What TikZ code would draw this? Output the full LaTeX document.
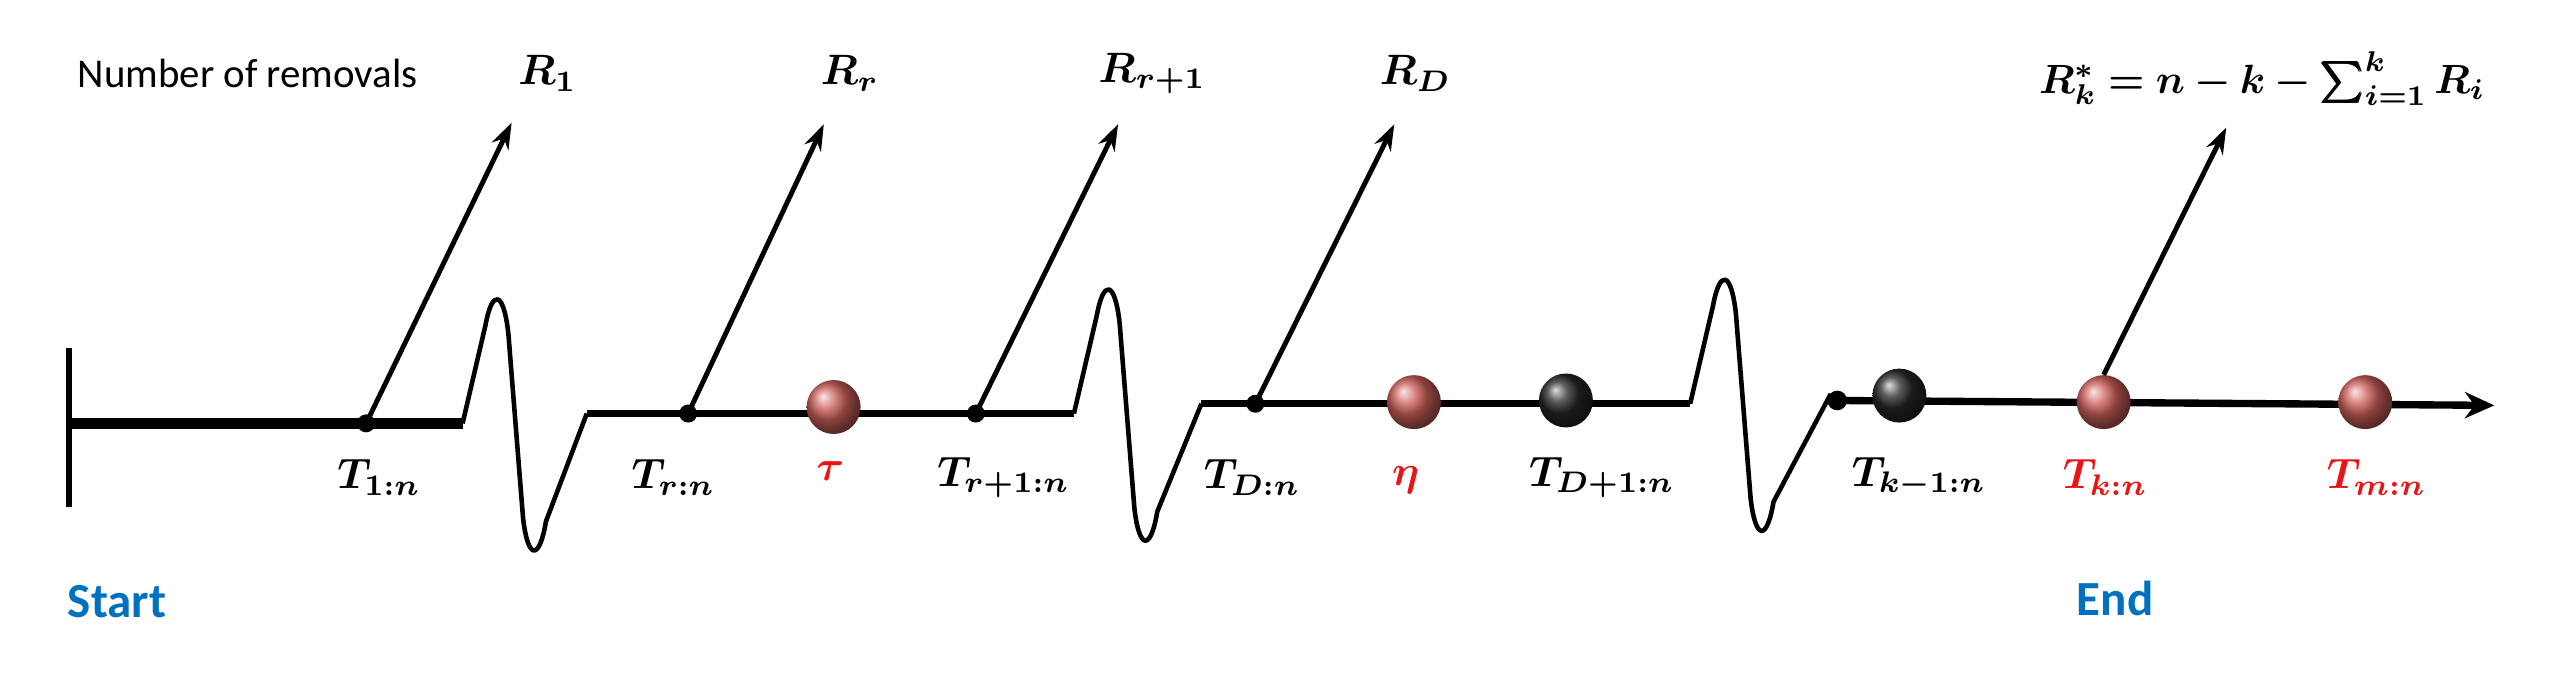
\documentclass[tikz,border=0pt]{standalone}
\usepackage{fontspec}
\usepackage{bm}
\newfontfamily\calib{Carlito}
\usetikzlibrary{arrows.meta}
\definecolor{startblue}{RGB}{0,112,192}
\definecolor{lblred}{RGB}{235,20,20}
\definecolor{ballred}{RGB}{205,95,90}
\newcommand{\mylbl}[1]{\scalebox{2.6}{$\bm{#1}$}}
\begin{document}
\begin{tikzpicture}[x=1pt,y=-1pt,
  axis/.style={line width=4.5pt},
  wavy/.style={line width=2.8pt,line join=round},
  sdot/.style={circle,fill=black,inner sep=0pt,minimum size=11pt},
  rball/.style={circle,shading=ball,ball color=ballred,inner sep=0pt,minimum width=33pt},
  kball/.style={circle,shading=ball,ball color=black!85,inner sep=0pt,minimum width=33pt},
  rem/.style={line width=3pt,-{Stealth[length=16pt,width=11pt]}},
  rl/.style={text=lblred},
  bl/.style={font=\calib\bfseries\fontsize{30}{34}\selectfont,text=startblue}]
\useasboundingbox (0,0) rectangle (1568,413);
\tikzset{pics/wave/.style={code={
  \draw[wavy] (0,0) -- (14,-60) .. controls (18,-82) and (25,-82) .. (28,-55) -- (37,58) .. controls (40,84) and (47,84) .. (51,60) -- (#1,-6);}}}
% start bar and segments
\coordinate (s0) at (42,259);
\draw[line width=3.5pt] (42,213) -- (42,310);
\coordinate (w1) at (283,259);
\draw[line width=7pt] (s0) -- (w1);
\pic at (w1) {wave=76};
\coordinate (s2a) at (359,253);
\coordinate (w2) at (657,253);
\draw[axis] (s2a) -- (w2);
\pic at (w2) {wave=78};
\coordinate (s3a) at (735,247);
\coordinate (w3) at (1034,247);
\draw[axis] (s3a) -- (w3);
\pic at (w3) {wave=86};
\node[sdot,minimum size=12pt] (sd) at (1124,245) {};
\coordinate (axend) at (1526,248);
\draw[axis,-{Stealth[length=18pt,width=16pt]}] (sd.center) -- (axend);
% points
\node[sdot] (p1) at (224,259) {};
\node[sdot] (pr) at (421,253) {};
\node[rball] (tau) at (510,249) {};
\node[sdot] (pr1) at (597,253) {};
\node[sdot] (pD) at (768,247) {};
\node[rball] (eta) at (865,246) {};
\node[kball] (pD1) at (958,245) {};
\node[kball] (pk1) at (1162,242) {};
\node[rball] (pk) at (1287,246) {};
\node[rball] (pm) at (1447,246) {};
% removal arrows
\coordinate (a1) at (313,75);
\coordinate (ar) at (504,76);
\coordinate (ar1) at (684,76);
\coordinate (aD) at (853,76);
\coordinate (ak) at (1362,78);
\draw[rem] (p1.center) -- (a1);
\draw[rem] (pr.center) -- (ar);
\draw[rem] (pr1.center) -- (ar1);
\draw[rem] (pD.center) -- (aD);
\draw[rem] (pk.north) -- (ak);
% top labels
\node[font=\calib\fontsize{25}{28}\selectfont,anchor=west] (nr) at (44,45) {Number of removals};
\node (R1) at (335,45) {\mylbl{R_1}};
\node (Rr) at (520,45) {\mylbl{R_r}};
\node (Rr1) at (705,45) {\mylbl{R_{r+1}}};
\node (RD) at (866,45) {\mylbl{R_D}};
\node (Rk) at (1384,48) {\scalebox{2.5}{$\bm{R_k^* = n-k-\textstyle\sum_{i=1}^{k} R_i}$}};
% bottom labels
\node (l1) at (232,292) {\mylbl{T_{1:n}}};
\node (lr) at (412,292) {\mylbl{T_{r:n}}};
\node[rl] (ltau) at (508,288) {\mylbl{\tau}};
\node (lr1) at (614,292) {\mylbl{T_{r+1:n}}};
\node (lD) at (766,292) {\mylbl{T_{D:n}}};
\node[rl] (leta) at (860,294) {\mylbl{\eta}};
\node (lD1) at (980,292) {\mylbl{T_{D+1:n}}};
\node (lk1) at (1174,292) {\mylbl{T_{k-1:n}}};
\node[rl] (lk) at (1288,292) {\mylbl{T_{k:n}}};
\node[rl] (lm) at (1454,292) {\mylbl{T_{m:n}}};
\node[bl,anchor=west] (st) at (38,368) {Start};
\node[bl] (en) at (1294,366) {End};
\end{tikzpicture}
\end{document}
